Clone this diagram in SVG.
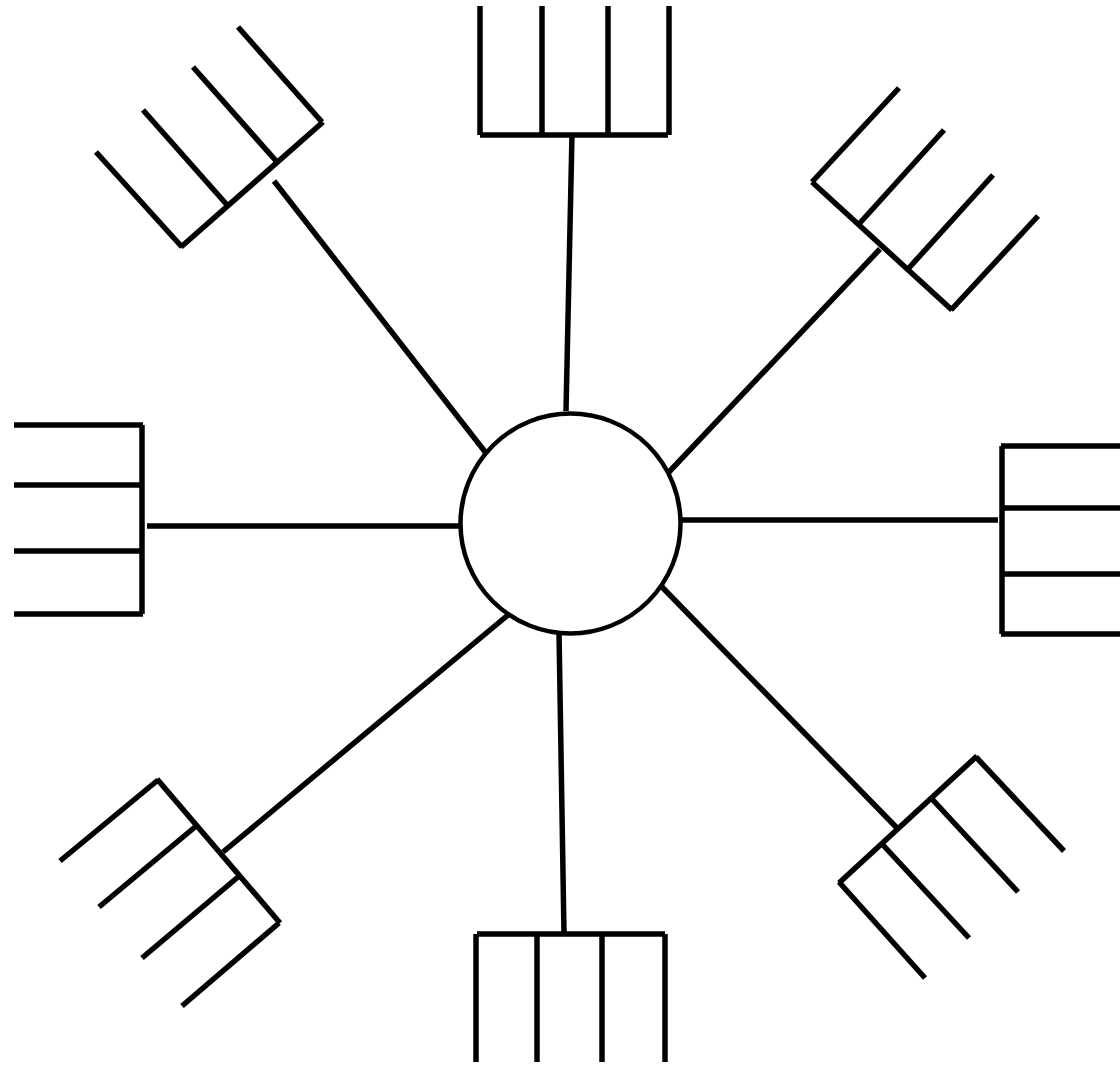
<svg xmlns="http://www.w3.org/2000/svg" width="1120" height="1065" viewBox="0 0 1120 1065">
<style>
line, polyline { stroke: #000; stroke-width: 5.5; fill: none; }
circle { stroke: #000; stroke-width: 4.5; fill: #fff; }
</style>
<rect width="1120" height="1065" fill="#fff"/>
<g id="connectors">
  <line x1="572" y1="135" x2="566" y2="411"/>
  <line x1="274" y1="181" x2="486" y2="453"/>
  <line x1="880" y1="249" x2="668" y2="473"/>
  <line x1="147" y1="526" x2="460" y2="526"/>
  <line x1="682" y1="520" x2="998" y2="520"/>
  <line x1="223" y1="852" x2="508" y2="615"/>
  <line x1="559" y1="632" x2="564" y2="933"/>
  <line x1="662" y1="587" x2="897" y2="828"/>
</g>
<g id="center">
  <circle cx="570.5" cy="523.5" r="110"/>
</g>
<g id="fork-top">
  <line x1="480" y1="135" x2="668" y2="135"/>
  <line x1="480" y1="6" x2="480" y2="135"/>
  <line x1="542" y1="6" x2="542" y2="135"/>
  <line x1="608" y1="6" x2="608" y2="135"/>
  <line x1="669" y1="6" x2="669" y2="135"/>
</g>
<g id="fork-top-left">
  <line x1="181" y1="247" x2="323" y2="122"/>
  <line x1="96" y1="152" x2="182" y2="247"/>
  <line x1="143" y1="110" x2="228" y2="206"/>
  <line x1="193" y1="67" x2="277" y2="162"/>
  <line x1="238" y1="27" x2="322" y2="122"/>
</g>
<g id="fork-top-right">
  <line x1="812" y1="182" x2="952" y2="310"/>
  <line x1="812" y1="182" x2="899" y2="88"/>
  <line x1="859" y1="224" x2="944" y2="130"/>
  <line x1="908" y1="269" x2="993" y2="175"/>
  <line x1="951" y1="310" x2="1038" y2="216"/>
</g>
<g id="fork-left">
  <line x1="142" y1="425" x2="142" y2="614"/>
  <line x1="14" y1="425" x2="143" y2="425"/>
  <line x1="14" y1="485" x2="142" y2="485"/>
  <line x1="14" y1="551" x2="142" y2="551"/>
  <line x1="14" y1="614" x2="143" y2="614"/>
</g>
<g id="fork-right">
  <line x1="1002" y1="446" x2="1002" y2="634"/>
  <line x1="1001" y1="446" x2="1120" y2="446"/>
  <line x1="1002" y1="508" x2="1120" y2="508"/>
  <line x1="1002" y1="574" x2="1120" y2="574"/>
  <line x1="1001" y1="634" x2="1120" y2="634"/>
</g>
<g id="fork-bottom-left">
  <line x1="157" y1="779" x2="280" y2="923"/>
  <line x1="158" y1="780" x2="60" y2="861"/>
  <line x1="195" y1="827" x2="99" y2="907"/>
  <line x1="238" y1="877" x2="142" y2="958"/>
  <line x1="279" y1="923" x2="182" y2="1006"/>
</g>
<g id="fork-bottom">
  <line x1="477" y1="934" x2="665" y2="934"/>
  <line x1="476" y1="934" x2="476" y2="1062"/>
  <line x1="537" y1="934" x2="537" y2="1062"/>
  <line x1="602" y1="934" x2="602" y2="1062"/>
  <line x1="665" y1="934" x2="665" y2="1062"/>
</g>
<g id="fork-bottom-right">
  <line x1="977" y1="756" x2="839" y2="883"/>
  <line x1="976" y1="757" x2="1064" y2="851"/>
  <line x1="932" y1="799" x2="1018" y2="892"/>
  <line x1="883" y1="845" x2="969" y2="938"/>
  <line x1="839" y1="882" x2="925" y2="978"/>
</g>
</svg>
